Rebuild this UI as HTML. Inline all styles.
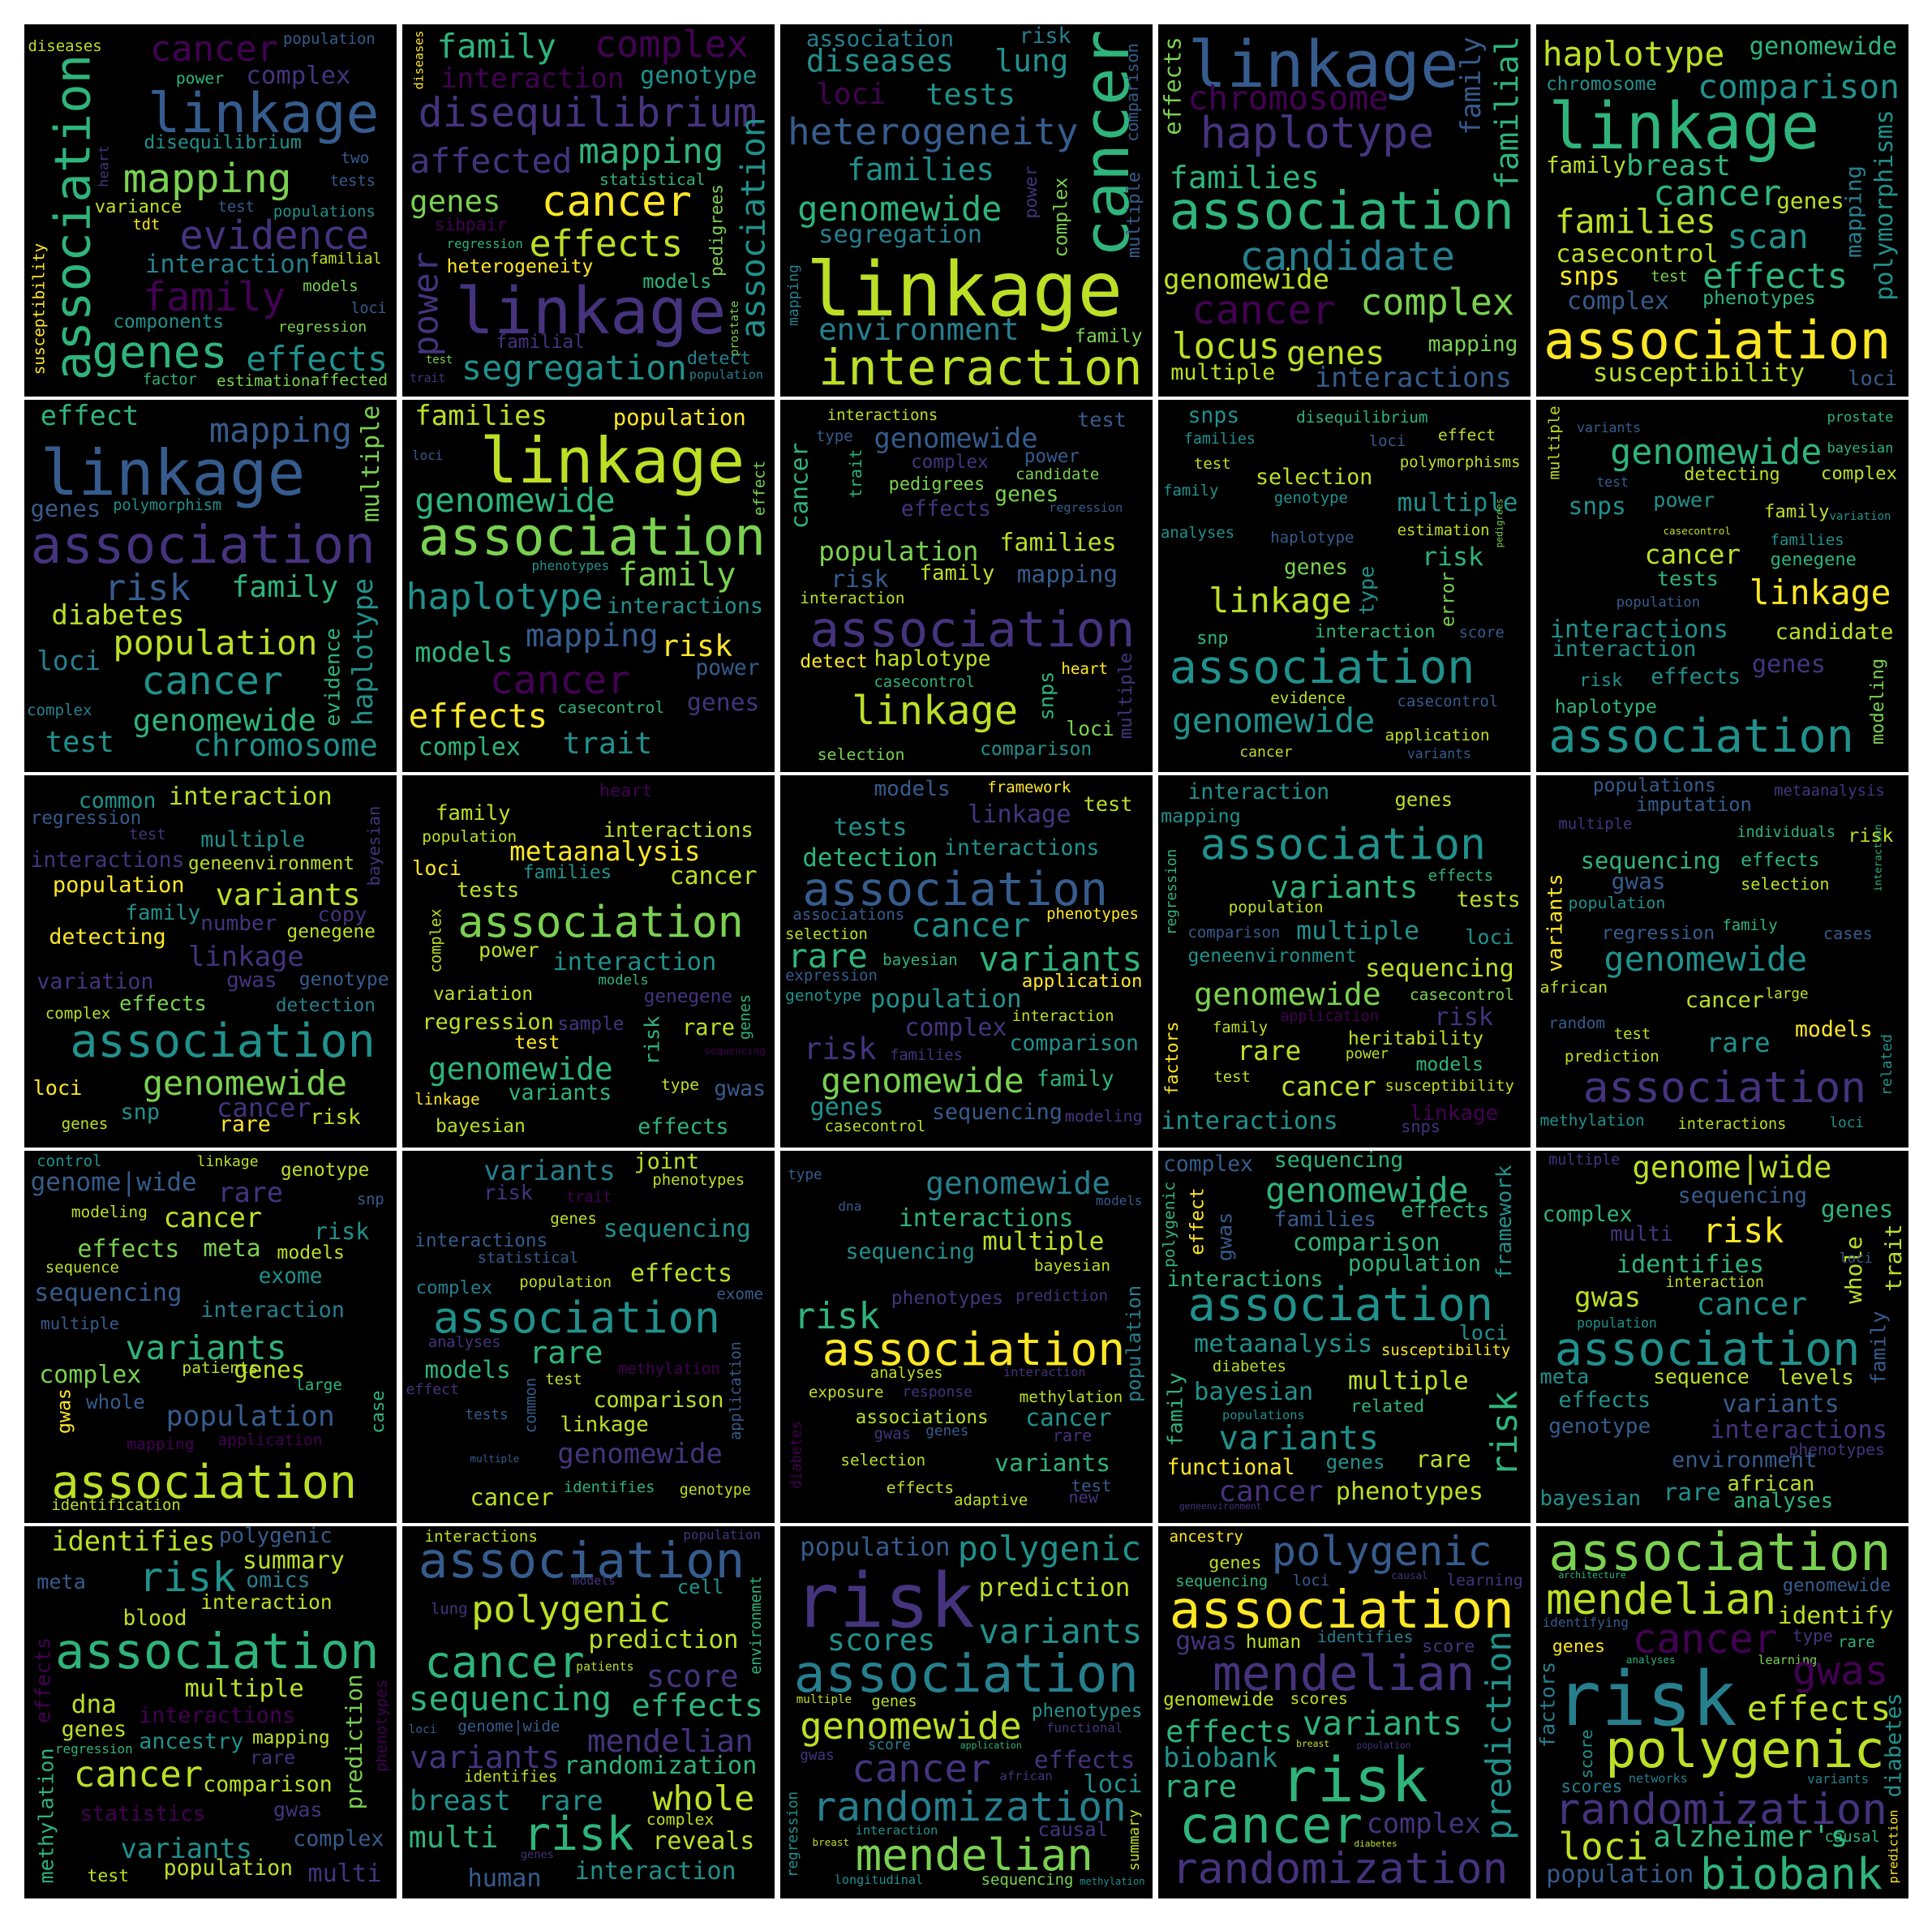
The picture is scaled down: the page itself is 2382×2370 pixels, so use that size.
<!DOCTYPE html>
<html><head><meta charset="utf-8">
<style>
html,body{margin:0;padding:0;background:#fff}
#root{position:relative;width:2382px;height:2370px;background:#fff;overflow:hidden}
.panel{position:absolute;width:459px;height:459px;background:#000;overflow:hidden}
.w{position:absolute;font-family:"DejaVu Sans Mono","Liberation Mono",monospace;line-height:1;white-space:pre;transform-origin:center center}
</style></head>
<body>
<div id="root"></div>
<script>
// Word cloud data: [word, x(left or center for vertical), centerY, extent, colorKey, vertical]
const palette = {P0:'#440154',P1:'#46337e',P2:'#365c8d',B:'#277f8e',T:'#21918c',G1:'#2fb47c',G2:'#7ad151',Y1:'#bddf26',Y:'#fde725'};
const panel1 = [["association",40,157,265,"G1",1],["linkage",100,72,188,"P2"],["cancer",102,20,104,"P0"],["population",210,12,75,"P2"],["diseases",3,18,60,"Y1"],["power",123,44,39,"G1"],["complex",180,42,85,"P1"],["disequilibrium",97,96,128,"T"],["mapping",80,125,137,"G2"],["two",257,108,23,"P2"],["tests",248,128,37,"P2"],["heart",65,115,34,"P1",1],["variance",57,148,71,"Y1"],["test",157,148,30,"P2"],["populations",202,152,83,"T"],["tdt",88,163,22,"Y"],["evidence",126,172,154,"P1"],["interaction",98,195,134,"B"],["familial",232,191,58,"Y1"],["family",96,222,116,"P0"],["models",226,213,45,"G2"],["loci",265,231,29,"P2"],["components",72,242,90,"T"],["regression",206,246,72,"G2"],["susceptibility",12,231,107,"Y",1],["genes",55,266,110,"G1"],["effects",180,272,115,"T"],["factor",96,289,44,"G1"],["estimation",156,289,76,"G2"],["affected",232,289,63,"G2"]];
const panel2 = [["diseases",14,29,48,"Y",1],["family",28,18,97,"G1"],["complex",156,16,125,"P0"],["interaction",31,44,149,"P0"],["genotype",193,42,95,"T"],["disequilibrium",13,72,275,"P1"],["affected",6,111,132,"P1"],["mapping",143,104,118,"G1"],["statistical",160,126,86,"G1"],["association",285,165,180,"T",1],["pedigrees",255,167,75,"G2",1],["genes",6,144,74,"G2"],["cancer",113,144,122,"Y"],["sibpair",26,163,59,"P0"],["regression",36,178,62,"G1"],["effects",103,178,125,"Y1"],["power",20,227,85,"P1",1],["heterogeneity",36,197,119,"Y"],["models",195,209,56,"G1"],["linkage",43,232,220,"P1"],["prostate",270,247,45,"G2",1],["familial",76,258,72,"P1"],["test",19,273,22,"G2"],["segregation",48,279,183,"T"],["detect",231,272,52,"B"],["population",233,285,60,"B"],["trait",6,288,29,"P1"]];
const panel3 = [["association",21,12,120,"B"],["risk",194,10,42,"B"],["diseases",21,30,120,"T"],["lung",174,30,60,"T"],["loci",29,57,57,"P0"],["tests",118,57,73,"T"],["cancer",266,97,185,"G1",1],["comparison",286,55,80,"P2",1],["multiple",288,155,70,"P2",1],["heterogeneity",6,87,236,"P2"],["families",54,118,120,"T"],["genomewide",14,150,166,"G1"],["power",204,136,43,"P1",1],["complex",228,157,65,"G2",1],["segregation",31,171,133,"B"],["linkage",21,215,257,"Y1"],["environment",31,248,163,"B"],["family",239,254,55,"G2"],["mapping",11,220,50,"B",1],["interaction",31,279,263,"Y1"]];
const panel4 = [["effects",12,50,80,"G2",1],["linkage",24,32,220,"P2"],["family",254,50,80,"P2",1],["familial",284,72,125,"G1",1],["chromosome",24,60,163,"P0"],["haplotype",34,88,190,"P1"],["families",9,125,122,"G1"],["association",9,152,280,"G1"],["candidate",66,188,175,"B"],["genomewide",4,207,135,"Y1"],["cancer",27,232,117,"P0"],["complex",164,225,125,"G2"],["locus",11,262,88,"Y1"],["genes",104,267,80,"Y1"],["mapping",219,260,73,"G2"],["multiple",10,283,85,"Y1"],["interactions",127,287,160,"P2"]];
const panel5 = [["haplotype",5,24,148,"Y1"],["genomewide",173,18,120,"G1"],["chromosome",8,49,90,"T"],["comparison",131,51,164,"T"],["linkage",10,82,220,"G1"],["polymorphisms",283,147,155,"T",1],["family",8,115,65,"Y1"],["breast",73,115,85,"G1"],["cancer",95,137,104,"G1"],["genes",195,143,55,"Y1"],["families",15,160,131,"Y1"],["scan",155,172,66,"T"],["mapping",258,152,75,"B",1],["casecontrol",16,187,132,"Y1"],["snps",18,205,50,"Y"],["test",93,205,30,"G2"],["effects",135,205,118,"G1"],["complex",25,225,83,"P2"],["phenotypes",135,222,92,"G1"],["association",6,257,282,"Y"],["susceptibility",46,283,172,"Y1"],["loci",253,287,40,"P2"]];
const panel6 = [["effect",13,13,80,"G1"],["mapping",150,25,116,"P2"],["multiple",282,52,95,"G2",1],["linkage",13,60,215,"P2"],["genes",5,88,57,"P2"],["polymorphism",72,86,88,"T"],["association",5,118,280,"P1"],["risk",65,153,70,"P2"],["family",168,152,87,"G1"],["diabetes",22,175,108,"Y1"],["haplotype",275,205,120,"T",1],["evidence",250,225,80,"G1",1],["population",72,197,166,"Y1"],["loci",10,212,52,"B"],["cancer",95,228,115,"T"],["genomewide",88,260,149,"G1"],["test",17,278,56,"T"],["chromosome",137,281,150,"T"],["complex",2,252,53,"B"]];
const panel7 = [["families",10,13,108,"Y1"],["population",171,15,108,"Y"],["linkage",63,50,215,"Y1"],["loci",8,45,25,"P2"],["effect",290,72,45,"G2",1],["genomewide",10,82,163,"G1"],["association",13,112,282,"G2"],["haplotype",3,160,160,"T"],["phenotypes",105,135,63,"T"],["family",175,142,96,"G2"],["interactions",166,168,127,"T"],["models",10,205,80,"G1"],["mapping",100,192,108,"P2"],["risk",210,200,58,"Y"],["power",238,218,52,"P2"],["cancer",71,228,114,"P0"],["effects",5,257,113,"Y"],["casecontrol",126,250,87,"G1"],["genes",231,246,59,"P1"],["complex",13,282,83,"G1"],["trait",130,279,73,"T"]];
const panel8 = [["interactions",38,13,90,"Y1"],["test",241,16,40,"P2"],["genomewide",76,31,133,"P2"],["type",29,30,30,"P2"],["trait",61,60,40,"G1",1],["cancer",16,70,70,"G1",1],["complex",106,51,63,"P1"],["power",198,46,45,"P2"],["candidate",191,61,68,"G2"],["pedigrees",88,69,78,"G2"],["genes",174,77,52,"G2"],["effects",98,89,73,"P1"],["regression",218,88,60,"P2"],["population",31,123,130,"G2"],["families",178,116,95,"Y1"],["risk",41,145,47,"P2"],["family",113,141,61,"Y1"],["mapping",192,142,82,"P2"],["interaction",16,161,85,"Y1"],["association",24,187,264,"P1"],["detect",16,213,55,"Y"],["haplotype",76,211,95,"Y1"],["heart",228,218,38,"Y"],["casecontrol",76,230,82,"G1"],["snps",216,240,40,"G1",1],["multiple",281,240,70,"P1",1],["linkage",58,253,135,"Y1"],["loci",232,267,39,"G2"],["selection",30,288,71,"G2"],["comparison",162,284,91,"T"]];
const panel9 = [["snps",24,13,42,"T"],["disequilibrium",112,14,107,"G1"],["families",21,32,58,"T"],["loci",171,34,30,"P2"],["effect",227,29,47,"Y1"],["test",29,52,30,"Y1"],["polymorphisms",196,51,98,"Y1"],["selection",79,63,95,"Y1"],["family",4,74,45,"T"],["genotype",94,80,60,"T"],["multiple",194,84,98,"T"],["pedigrees",277,100,40,"G2",1],["analyses",2,108,60,"T"],["haplotype",91,112,68,"P2"],["estimation",194,106,75,"Y1"],["risk",214,128,50,"G1"],["genes",102,136,52,"G2"],["error",236,162,45,"G2",1],["type",169,155,40,"T",1],["linkage",41,163,116,"Y1"],["snp",31,194,26,"G1"],["interaction",127,188,98,"G1"],["score",244,190,37,"P2"],["association",9,217,248,"T"],["evidence",91,242,61,"Y1"],["genomewide",11,260,165,"T"],["casecontrol",194,246,82,"P2"],["application",184,272,85,"Y1"],["cancer",66,286,43,"Y1"],["variants",202,288,52,"P2"]];
const panel10 = [["multiple",15,35,60,"Y1",1],["prostate",236,15,54,"G1"],["variants",33,23,52,"P2"],["genomewide",60,43,172,"G1"],["bayesian",236,40,54,"G1"],["test",49,67,26,"P2"],["detecting",120,61,78,"Y1"],["complex",231,60,62,"Y1"],["snps",26,86,47,"T"],["power",95,81,50,"T"],["family",185,91,53,"Y1"],["variation",238,95,50,"T"],["casecontrol",103,107,55,"Y1"],["cancer",88,126,78,"Y1"],["families",190,114,60,"T"],["genegene",190,130,70,"G1"],["tests",98,145,50,"G1"],["population",65,165,68,"P2"],["linkage",173,157,115,"Y"],["interactions",11,187,145,"T"],["candidate",194,189,96,"Y1"],["interaction",13,203,117,"T"],["risk",35,228,35,"T"],["effects",93,225,73,"T"],["genes",175,215,60,"P1"],["haplotype",15,249,83,"G1"],["modeling",278,245,70,"G2",1],["association",10,273,248,"T"]];
const panel11 = [["common",44,21,63,"T"],["interaction",117,18,133,"Y1"],["regression",5,35,90,"P2"],["test",85,48,30,"P1"],["multiple",143,53,85,"T"],["bayesian",284,57,65,"P1",1],["interactions",5,69,125,"P1"],["geneenvironment",133,72,135,"Y1"],["population",23,89,107,"Y"],["variants",155,97,118,"Y1"],["family",82,112,61,"T"],["number",143,120,62,"P1"],["copy",238,113,40,"P1"],["detecting",20,132,95,"Y"],["genegene",213,127,72,"Y1"],["linkage",133,147,94,"P1"],["variation",10,168,95,"P1"],["gwas",164,167,41,"P1"],["genotype",223,166,73,"P2"],["complex",17,193,53,"Y1"],["effects",77,186,71,"G2"],["detection",204,187,81,"B"],["association",37,216,248,"T"],["loci",7,254,40,"Y"],["genomewide",96,250,166,"G2"],["snp",78,274,32,"T"],["cancer",156,270,77,"P1"],["risk",232,278,41,"Y1"],["genes",30,283,38,"Y1"],["rare",158,284,42,"Y"]];
const panel12 = [["heart",160,13,43,"P0"],["family",27,31,61,"Y1"],["interactions",163,45,122,"Y1"],["population",16,50,77,"Y1"],["metaanalysis",87,62,155,"Y"],["loci",8,75,40,"Y"],["families",98,79,72,"T"],["cancer",217,82,71,"Y1"],["tests",44,94,51,"Y1"],["complex",28,134,52,"Y1",1],["association",45,119,232,"G2"],["power",62,142,49,"Y1"],["interaction",122,152,133,"T"],["models",159,167,41,"G1"],["variation",25,178,81,"Y1"],["genegene",196,180,72,"P1"],["regression",16,200,107,"Y1"],["sample",126,202,54,"P1"],["rare",227,205,43,"Y1"],["risk",203,215,40,"G1",1],["genes",279,196,37,"G1",1],["test",91,217,37,"Y"],["sequencing",245,224,50,"P0"],["genomewide",21,239,150,"G1"],["variants",86,258,84,"G1"],["linkage",10,263,53,"Y"],["type",210,251,31,"Y1"],["gwas",253,255,42,"P2"],["bayesian",27,285,73,"Y1"],["effects",191,286,74,"G1"]];
const panel13 = [["models",76,11,62,"P2"],["framework",168,10,68,"Y"],["test",246,23,40,"Y1"],["linkage",152,32,84,"P1"],["tests",43,43,60,"T"],["detection",18,67,110,"G1"],["interactions",133,59,126,"T"],["association",18,93,248,"P2"],["associations",10,113,91,"P2"],["cancer",106,122,97,"T"],["phenotypes",216,113,75,"Y"],["selection",4,130,67,"Y1"],["rare",6,147,65,"G1"],["bayesian",83,150,61,"G1"],["variants",161,149,133,"G1"],["expression",4,163,75,"P2"],["application",196,167,98,"Y"],["genotype",4,179,62,"T"],["population",73,182,123,"T"],["complex",101,205,83,"P1"],["interaction",188,196,83,"Y1"],["risk",19,222,59,"P1"],["families",89,228,59,"P1"],["comparison",186,218,105,"T"],["genomewide",33,248,165,"G2"],["family",208,247,63,"G1"],["genes",24,270,60,"T"],["sequencing",123,274,106,"P2"],["modeling",231,277,63,"P1"],["casecontrol",36,286,82,"Y1"]];
const panel14 = [["interaction",24,14,115,"T"],["genes",192,20,47,"Y1"],["mapping",2,33,65,"T"],["association",34,56,232,"T"],["regression",12,95,70,"G1",1],["variants",91,91,120,"G1"],["effects",219,81,53,"G1"],["population",57,107,77,"Y1"],["tests",242,101,52,"Y1"],["comparison",24,128,75,"P2"],["multiple",112,127,100,"T"],["loci",249,131,40,"T"],["geneenvironment",24,147,137,"T"],["sequencing",168,157,121,"Y1"],["genomewide",29,178,152,"G2"],["casecontrol",204,178,85,"G2"],["application",99,196,80,"P0"],["risk",224,197,48,"P1"],["factors",12,230,60,"Y",1],["family",44,205,45,"Y1"],["heritability",154,214,110,"Y1"],["rare",64,224,52,"Y1"],["power",152,227,35,"Y1"],["models",209,235,55,"G1"],["test",45,245,30,"Y1"],["cancer",99,253,78,"Y1"],["susceptibility",184,252,105,"Y1"],["interactions",2,281,144,"T"],["linkage",204,275,72,"P0"],["snps",197,285,32,"P1"]];
const panel15 = [["populations",46,9,100,"P2"],["metaanalysis",193,13,90,"P1"],["imputation",81,24,94,"P2"],["multiple",18,40,60,"P1"],["individuals",163,47,80,"G1"],["risk",253,49,37,"Y1"],["interaction",278,67,55,"G1",1],["sequencing",36,69,114,"G1"],["effects",166,69,64,"G1"],["gwas",61,86,44,"P2"],["selection",166,88,72,"Y1"],["variants",15,120,80,"Y",1],["population",26,104,79,"T"],["regression",53,128,92,"P2"],["family",151,122,45,"G1"],["cases",233,128,40,"P2"],["genomewide",55,149,165,"T"],["african",3,172,55,"Y1"],["cancer",121,183,64,"Y1"],["large",186,178,35,"Y1"],["random",10,201,46,"P2"],["test",63,210,30,"Y1"],["rare",138,217,52,"T"],["models",210,207,63,"Y"],["related",285,235,50,"T",1],["prediction",23,228,77,"Y1"],["association",38,254,230,"P1"],["methylation",3,280,85,"T"],["interactions",115,284,88,"Y1"],["loci",238,283,28,"T"]];
const panel16 = [["control",10,8,53,"T"],["linkage",140,9,50,"Y1"],["genotype",208,16,72,"Y1"],["genome|wide",5,26,135,"P2"],["rare",157,34,53,"P1"],["snp",270,40,22,"P2"],["modeling",38,50,62,"Y1"],["cancer",113,54,80,"Y1"],["risk",235,66,45,"T"],["effects",43,80,83,"G2"],["meta",145,79,47,"G2"],["models",205,83,55,"Y1"],["sequence",17,95,60,"Y1"],["exome",190,102,52,"T"],["sequencing",8,116,120,"P2"],["interaction",143,130,117,"B"],["multiple",13,140,64,"P2"],["variants",82,160,131,"G1"],["complex",12,182,83,"G2"],["patients",128,176,62,"Y1"],["genes",170,178,58,"Y1"],["large",220,190,38,"G1"],["gwas",32,211,37,"Y",1],["whole",50,204,48,"P2"],["case",288,212,35,"G1",1],["population",115,216,137,"P2"],["mapping",83,238,55,"P0"],["application",157,235,85,"P0"],["association",22,269,248,"Y1"],["identification",22,288,105,"Y1"]];
const panel17 = [["variants",66,16,107,"B"],["joint",188,9,53,"Y1"],["phenotypes",203,24,75,"Y1"],["risk",66,34,40,"P1"],["trait",133,38,37,"P0"],["genes",120,55,38,"Y1"],["sequencing",163,64,120,"T"],["interactions",10,73,108,"P2"],["statistical",61,88,82,"P2"],["effects",185,100,83,"Y1"],["complex",11,111,62,"B"],["population",95,107,75,"Y1"],["exome",255,116,38,"P2"],["association",25,135,233,"T"],["analyses",21,156,59,"P1"],["rare",103,164,60,"G1"],["methylation",175,177,83,"P0"],["application",271,195,80,"P2",1],["models",18,178,70,"G1"],["effect",3,194,43,"P1"],["test",116,186,30,"Y1"],["comparison",155,203,106,"Y1"],["common",105,207,45,"P2",1],["tests",51,215,35,"P2"],["linkage",128,223,72,"Y1"],["multiple",55,250,40,"P2"],["genomewide",126,246,134,"P1"],["cancer",55,281,68,"Y1"],["identifies",131,274,74,"G1"],["genotype",225,276,58,"Y1"]];
const panel18 = [["type",6,20,28,"P2"],["genomewide",118,27,150,"B"],["models",256,41,38,"P2"],["dna",47,45,19,"P2"],["interactions",96,55,142,"G1"],["sequencing",53,82,105,"T"],["multiple",164,74,99,"Y1"],["bayesian",206,93,62,"Y1"],["phenotypes",90,120,91,"P1"],["prediction",191,118,75,"P1"],["population",288,157,95,"B",1],["risk",11,135,70,"G1"],["association",34,162,246,"Y"],["analyses",73,181,59,"Y1"],["interaction",181,180,67,"P1"],["exposure",23,196,61,"Y1"],["response",99,196,57,"P1"],["methylation",194,200,84,"Y1"],["associations",61,217,108,"Y1"],["cancer",199,217,70,"T"],["gwas",76,230,30,"P1"],["genes",118,228,35,"P2"],["rare",221,231,32,"P1"],["diabetes",14,247,55,"P0",1],["selection",49,251,69,"Y1"],["variants",174,253,94,"G1"],["effects",86,274,55,"Y1"],["test",236,272,33,"P2"],["adaptive",141,284,60,"Y1"],["new",234,281,24,"P1"]];
const panel19 = [["complex",4,11,73,"P2"],["sequencing",94,8,105,"G1"],["polygenic",9,60,70,"G1",1],["effect",32,57,55,"Y",1],["gwas",54,70,40,"P2",1],["genomewide",87,32,165,"G1"],["framework",281,58,93,"T",1],["families",94,56,83,"P2"],["effects",197,49,72,"G1"],["comparison",109,75,120,"G1"],["population",154,92,108,"G1"],["interactions",7,105,127,"G1"],["association",24,125,248,"T"],["loci",244,148,40,"T"],["metaanalysis",29,157,145,"T"],["susceptibility",181,162,105,"Y"],["diabetes",44,175,60,"Y1"],["multiple",154,187,98,"Y1"],["family",14,210,60,"G1",1],["bayesian",29,196,97,"T"],["related",156,208,60,"G1"],["risk",282,230,70,"G1",1],["populations",52,215,67,"T"],["variants",49,233,130,"T"],["genes",136,253,48,"T"],["rare",209,251,45,"Y1"],["functional",7,257,104,"Y"],["cancer",49,277,85,"P1"],["phenotypes",144,277,120,"Y1"],["geneenvironment",17,289,67,"P1"]];
const panel20 = [["multiple",10,8,58,"P1"],["genome|wide",78,13,162,"Y1"],["sequencing",115,37,105,"P2"],["complex",5,52,73,"G1"],["genes",231,48,59,"G1"],["multi",60,68,51,"P1"],["risk",135,65,66,"Y"],["whole",258,97,55,"Y1",1],["loci",246,88,27,"P2"],["trait",290,87,55,"Y1",1],["identifies",65,93,120,"G1"],["interaction",105,107,80,"Y1"],["gwas",31,119,54,"Y1"],["cancer",130,125,90,"T"],["population",33,140,65,"T"],["family",278,160,60,"P2",1],["association",15,161,248,"T"],["meta",3,183,40,"T"],["sequence",95,184,78,"Y1"],["levels",196,184,62,"Y1"],["effects",18,202,75,"T"],["variants",151,206,95,"P2"],["genotype",10,224,83,"P2"],["interactions",141,227,144,"P1"],["phenotypes",205,243,78,"P1"],["environment",110,251,118,"P2"],["bayesian",3,283,82,"T"],["rare",103,277,47,"T"],["african",155,271,71,"Y1"],["analyses",160,285,81,"G1"]];
const panel21 = [["identifies",22,12,133,"Y1"],["polygenic",158,8,92,"P2"],["meta",10,45,40,"P2"],["risk",93,42,79,"T"],["summary",177,28,83,"Y1"],["omics",180,44,52,"B"],["interaction",143,62,107,"Y1"],["blood",80,75,52,"Y1"],["association",25,102,263,"G1"],["effects",15,125,70,"P0",1],["multiple",130,132,97,"Y1"],["prediction",268,175,110,"G2",1],["phenotypes",290,162,75,"P0",1],["dna",38,145,37,"Y1"],["interactions",93,154,127,"P0"],["genes",30,165,53,"Y1"],["ancestry",93,175,85,"T"],["mapping",185,172,63,"Y1"],["regression",25,181,63,"G1"],["rare",183,188,37,"P1"],["methylation",18,235,110,"G1",1],["cancer",40,202,105,"Y1"],["comparison",145,210,105,"Y1"],["statistics",45,234,102,"P0"],["gwas",202,230,40,"P1"],["complex",218,254,74,"P2"],["variants",78,262,107,"T"],["test",51,284,34,"Y1"],["population",113,278,105,"Y1"],["multi",230,282,60,"P1"]];
const panel22 = [["interactions",18,8,92,"Y1"],["population",228,7,63,"P1"],["association",13,28,265,"P2"],["models",138,45,35,"P1"],["cell",223,50,38,"T"],["environment",288,80,80,"G1",1],["lung",23,67,30,"P1"],["polygenic",56,67,162,"Y1"],["prediction",151,92,122,"Y1"],["cancer",18,110,130,"G1"],["patients",141,115,47,"Y1"],["score",198,122,75,"P1"],["sequencing",5,140,165,"G1"],["effects",186,146,107,"G1"],["loci",5,165,23,"P2"],["genome|wide",45,163,83,"P2"],["mendelian",150,175,135,"P1"],["variants",6,188,122,"P1"],["identifies",50,203,76,"Y1"],["randomization",131,195,157,"G1"],["breast",6,223,82,"T"],["rare",110,223,53,"T"],["whole",203,221,83,"Y1"],["complex",198,238,55,"Y1"],["multi",5,253,73,"G1"],["risk",98,250,90,"G1"],["reveals",203,256,83,"Y1"],["genes",96,267,27,"P1"],["human",53,286,60,"P2"],["interaction",140,280,131,"T"]];
const panel23 = [["population",16,17,122,"P2"],["polygenic",144,18,149,"T"],["risk",11,60,147,"P1"],["prediction",161,50,123,"Y1"],["scores",38,92,88,"T"],["variants",161,85,133,"T"],["association",11,120,280,"B"],["multiple",13,141,45,"Y1"],["genes",74,143,37,"Y1"],["phenotypes",204,150,90,"T"],["genomewide",16,162,180,"Y1"],["functional",216,164,62,"P1"],["gwas",16,187,28,"P1"],["score",71,178,35,"B"],["application",146,178,50,"G1"],["cancer",58,197,113,"P1"],["effects",206,190,82,"P1"],["african",178,203,43,"P1"],["loci",246,210,48,"T"],["regression",11,250,70,"T",1],["randomization",26,228,255,"B"],["summary",288,255,50,"Y1",1],["breast",26,257,30,"Y1"],["interaction",61,247,67,"T"],["causal",209,247,57,"P1"],["mendelian",61,267,193,"G2"],["longitudinal",44,287,72,"T"],["sequencing",163,287,75,"G2"],["methylation",243,288,53,"T"]];
const panel24 = [["ancestry",9,9,60,"Y"],["polygenic",92,20,179,"P2"],["genes",41,30,43,"Y1"],["sequencing",14,45,75,"G1"],["loci",109,44,30,"P2"],["causal",189,40,30,"P1"],["learning",234,44,62,"P1"],["association",9,68,280,"Y"],["prediction",277,170,170,"T",1],["gwas",14,94,50,"P1"],["human",71,94,45,"Y1"],["identifies",129,90,78,"B"],["score",214,98,43,"P1"],["mendelian",44,120,213,"P1"],["genomewide",4,141,90,"Y1"],["scores",107,140,47,"Y1"],["effects",6,167,103,"G1"],["variants",117,160,130,"G1"],["biobank",4,188,93,"T"],["breast",112,177,27,"Y1"],["population",161,178,44,"P1"],["rare",4,212,60,"G1"],["risk",99,206,120,"G1"],["cancer",17,243,149,"G1"],["complex",169,241,93,"P1"],["diabetes",159,258,35,"Y1"],["randomization",11,278,273,"P1"]];
const panel25 = [["association",10,22,278,"G2"],["architecture",18,40,55,"G1"],["genomewide",200,48,88,"P2"],["mendelian",8,60,187,"Y1"],["identify",196,72,94,"Y1"],["identifying",5,78,70,"P2"],["cancer",78,92,118,"P0"],["type",208,89,33,"P1"],["rare",245,94,30,"G1"],["genes",13,98,43,"Y"],["analyses",73,109,40,"G1"],["learning",180,109,48,"G2"],["gwas",208,117,78,"P0"],["risk",16,140,147,"B"],["factors",9,145,70,"B",1],["effects",171,148,117,"Y1"],["diabetes",291,178,85,"T",1],["score",41,185,40,"T",1],["polygenic",56,182,227,"Y1"],["scores",20,211,50,"B"],["networks",75,205,48,"B"],["variants",220,205,50,"B"],["randomization",15,230,270,"P1"],["prediction",290,260,60,"Y",1],["loci",18,260,73,"Y1"],["alzheimer's",95,252,158,"G1"],["causal",234,252,45,"G1"],["population",8,283,120,"P2"],["biobank",133,282,148,"G1"]];
const panels = [panel1,panel2,panel3,panel4,panel5,panel6,panel7,panel8,panel9,panel10,panel11,panel12,panel13,panel14,panel15,panel16,panel17,panel18,panel19,panel20,panel21,panel22,panel23,panel24,panel25];

const S = 1.519, CHAR = 0.602;
const root = document.getElementById('root');
panels.forEach(function(words, i){
  const r = Math.floor(i/5), c = i%5;
  const p = document.createElement('div');
  p.className = 'panel';
  
  
  p.style.left = (30 + c*466) + 'px';
  p.style.top = (30 + r*463) + 'px';
  root.appendChild(p);
  words.forEach(function(w){
    const s = document.createElement('span');
    s.className = 'w';
    
    
    s.textContent = w[0];
    const fs = w[3]*S/(CHAR*w[0].length);
    s.style.fontSize = fs.toFixed(2) + 'px';
    s.style.color = palette[w[4]];
    if (w[5]) {
      s.style.left = (w[1]*S) + 'px';
      s.style.top = (w[2]*S) + 'px';
      s.style.transform = 'translate(-50%,-50%) rotate(-90deg)';
    } else {
      s.style.left = (w[1]*S) + 'px';
      s.style.top = (w[2]*S - fs*0.49) + 'px';
    }
    p.appendChild(s);
  });
});
</script>
</body></html>
